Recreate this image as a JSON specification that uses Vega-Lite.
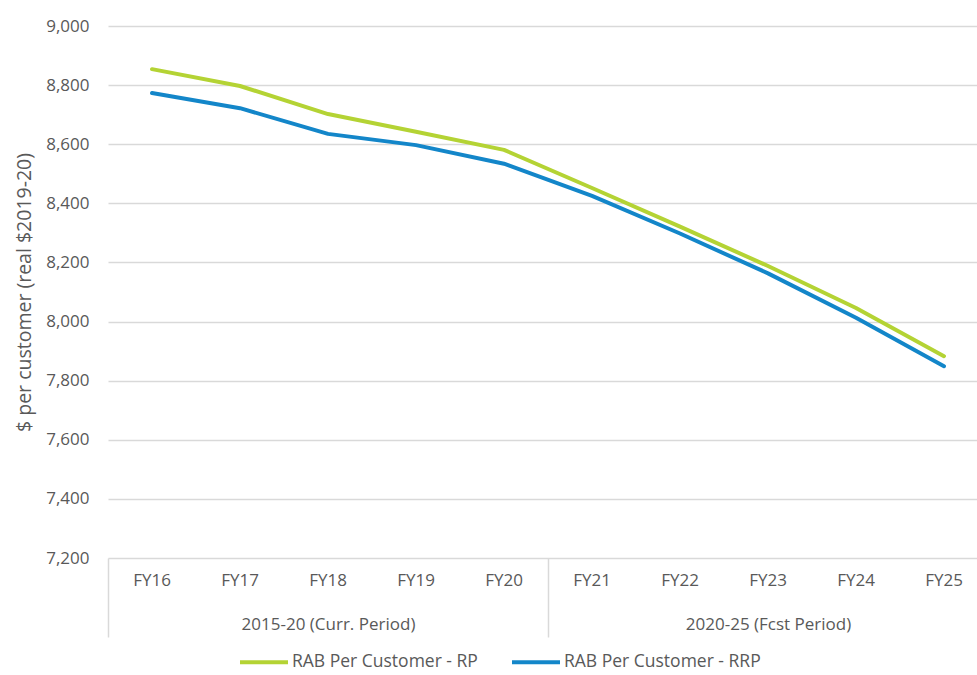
{
  "$schema": "https://vega.github.io/schema/vega-lite/v6.json",
  "width": 869,
  "height": 532,
  "autosize": {"type": "none"},
  "padding": {"left": 108, "top": 26, "right": 0, "bottom": 117},
  "background": "white",
  "config": {
    "view": {"stroke": null},
    "font": "Open Sans",
    "axis": {"labelFont": "Open Sans", "titleFont": "Open Sans", "labelColor": "#595959", "titleColor": "#595959"},
    "legend": {"labelFont": "Open Sans"}
  },
  "data": {
    "values": [
      {"FY": "FY16", "Period": "2015-20 (Curr. Period)", "Series": "RAB Per Customer - RP", "Value": 8854},
      {"FY": "FY17", "Period": "2015-20 (Curr. Period)", "Series": "RAB Per Customer - RP", "Value": 8797},
      {"FY": "FY18", "Period": "2015-20 (Curr. Period)", "Series": "RAB Per Customer - RP", "Value": 8702},
      {"FY": "FY19", "Period": "2015-20 (Curr. Period)", "Series": "RAB Per Customer - RP", "Value": 8642},
      {"FY": "FY20", "Period": "2015-20 (Curr. Period)", "Series": "RAB Per Customer - RP", "Value": 8581},
      {"FY": "FY21", "Period": "2020-25 (Fcst Period)", "Series": "RAB Per Customer - RP", "Value": 8452},
      {"FY": "FY22", "Period": "2020-25 (Fcst Period)", "Series": "RAB Per Customer - RP", "Value": 8321},
      {"FY": "FY23", "Period": "2020-25 (Fcst Period)", "Series": "RAB Per Customer - RP", "Value": 8188},
      {"FY": "FY24", "Period": "2020-25 (Fcst Period)", "Series": "RAB Per Customer - RP", "Value": 8046},
      {"FY": "FY25", "Period": "2020-25 (Fcst Period)", "Series": "RAB Per Customer - RP", "Value": 7883},
      {"FY": "FY16", "Period": "2015-20 (Curr. Period)", "Series": "RAB Per Customer - RRP", "Value": 8773},
      {"FY": "FY17", "Period": "2015-20 (Curr. Period)", "Series": "RAB Per Customer - RRP", "Value": 8722},
      {"FY": "FY18", "Period": "2015-20 (Curr. Period)", "Series": "RAB Per Customer - RRP", "Value": 8635},
      {"FY": "FY19", "Period": "2015-20 (Curr. Period)", "Series": "RAB Per Customer - RRP", "Value": 8597},
      {"FY": "FY20", "Period": "2015-20 (Curr. Period)", "Series": "RAB Per Customer - RRP", "Value": 8534},
      {"FY": "FY21", "Period": "2020-25 (Fcst Period)", "Series": "RAB Per Customer - RRP", "Value": 8425},
      {"FY": "FY22", "Period": "2020-25 (Fcst Period)", "Series": "RAB Per Customer - RRP", "Value": 8298},
      {"FY": "FY23", "Period": "2020-25 (Fcst Period)", "Series": "RAB Per Customer - RRP", "Value": 8163},
      {"FY": "FY24", "Period": "2020-25 (Fcst Period)", "Series": "RAB Per Customer - RRP", "Value": 8013},
      {"FY": "FY25", "Period": "2020-25 (Fcst Period)", "Series": "RAB Per Customer - RRP", "Value": 7849}
    ]
  },
  "layer": [
    {
      "mark": {"type": "line", "strokeWidth": 4, "strokeCap": "round", "strokeJoin": "round"},
      "encoding": {
        "x": {
          "field": "FY", "type": "ordinal",
          "scale": {"type": "band", "range": [0, 880], "paddingInner": 0, "paddingOuter": 0},
          "axis": {"title": null, "labelAngle": 0, "ticks": false, "domain": false, "grid": false, "labelFontSize": 17, "labelPadding": 14}
        },
        "y": {
          "field": "Value", "type": "quantitative",
          "scale": {"domain": [7200, 9000], "zero": false, "nice": false},
          "axis": {
            "title": "$ per customer (real $2019-20)",
            "titleFontSize": 19.5, "titleFontWeight": "normal", "titlePadding": 11,
            "values": [7200, 7400, 7600, 7800, 8000, 8200, 8400, 8600, 8800, 9000],
            "format": ",.0f", "labelFontSize": 17, "labelPadding": 19,
            "ticks": false, "domain": false, "gridColor": "#d9d9d9", "gridWidth": 1.5
          }
        },
        "color": {
          "field": "Series", "type": "nominal",
          "scale": {"domain": ["RAB Per Customer - RP", "RAB Per Customer - RRP"], "range": ["#b4d334", "#1386c9"]},
          "legend": {
            "title": null, "orient": "none", "direction": "horizontal",
            "legendX": 130, "legendY": 610,
            "symbolType": "stroke", "symbolSize": 2304, "symbolStrokeWidth": 4,
            "labelFontSize": 17.5, "labelColor": "#595959", "labelOffset": 2, "labelLimit": 400,
            "columnPadding": 26, "padding": 0
          }
        }
      }
    },
    {
      "mark": {"type": "point", "opacity": 0},
      "encoding": {
        "x": {
          "field": "Period", "type": "nominal",
          "scale": {"type": "band", "range": [0, 880], "paddingInner": 0, "paddingOuter": 0},
          "axis": {
            "title": null, "orient": "bottom", "labelAngle": 0, "domain": false, "grid": false,
            "ticks": true, "tickBand": "extent", "tickSize": 79, "tickColor": "#d9d9d9", "tickWidth": 1.5,
            "labelFontSize": 17, "labelPadding": -21, "labelColor": "#595959"
          }
        },
        "y": {"field": "Value", "type": "quantitative"}
      }
    }
  ],
  "resolve": {"scale": {"x": "independent"}, "axis": {"x": "independent"}}
}
